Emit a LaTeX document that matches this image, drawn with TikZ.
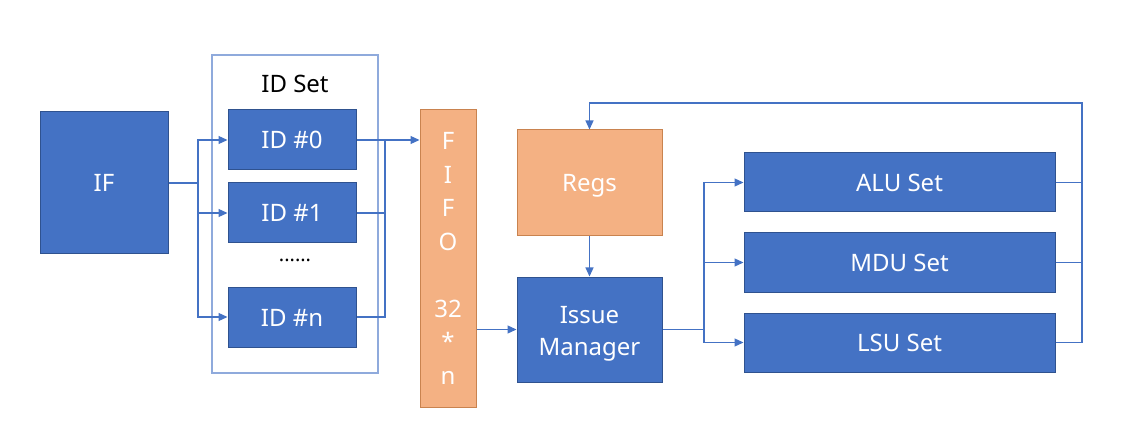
\documentclass[tikz,border=0pt]{standalone}
\usepackage{fontspec}
\setmainfont{Noto Sans}
\usetikzlibrary{arrows.meta}

\definecolor{blkblue}{HTML}{4472C4}
\definecolor{blkblueline}{HTML}{2F528F}
\definecolor{blkorange}{HTML}{F4B183}
\definecolor{blkorangeline}{HTML}{C9834F}
\definecolor{setline}{HTML}{8FAADC}

\tikzset{
	blk/.style={draw=blkblueline, fill=blkblue, text=white, line width=1pt, inner sep=0pt,
		font=\fontsize{24}{32}\selectfont, align=center},
	orgblk/.style={blk, draw=blkorangeline, fill=blkorange},
	oneline/.style={text height=23pt, text depth=5pt},
	wire/.style={draw=blkblue, line width=1.2pt},
	arr/.style={wire, -{Triangle[length=9pt,width=8pt]}}
}

\begin{document}
\begin{tikzpicture}[x=1pt, y=-1pt]
			%%%%% START %%%%%
			\useasboundingbox (0, 0) rectangle (1121, 438);
			
			% front end
			\node[blk, oneline, minimum width=128, minimum height=142] (if) at (104, 183) {IF};
			
			\node[draw=setline, line width=1.5pt, minimum width=166, minimum height=318, inner sep=0pt] (idset) at (295, 214) {};
			\node[font=\fontsize{24}{28}\selectfont] (idsetlabel) at (295, 84) {ID Set};
			\node[blk, oneline, minimum width=128, minimum height=60] (id0) at (292, 140) {ID \#0};
			\node[blk, oneline, minimum width=128, minimum height=60] (id1) at (292, 213) {ID \#1};
			\node[font=\fontsize{20}{20}\selectfont] (iddots) at (295, 260) {......};
			\node[blk, oneline, minimum width=128, minimum height=60] (idn) at (292, 317) {ID \#n};
			
			\node[orgblk, minimum width=56, minimum height=297, font=\fontsize{24}{33.5}\selectfont] (fifo) at (448, 258.5) {F\\I\\F\\O\\[33.5pt]32\\*\\n};
			
			% back end
			\node[orgblk, oneline, minimum width=145, minimum height=106] (regs) at (589.5, 183) {Regs};
			\node[blk, minimum width=145, minimum height=105] (issue) at (589.5, 329.5) {\rule{0pt}{25pt}Issue\\Manager};
			
			\node[blk, oneline, minimum width=311, minimum height=59] (alu) at (899.5, 182.5) {ALU Set};
			\node[blk, oneline, minimum width=311, minimum height=59] (mdu) at (899.5, 262.5) {MDU Set};
			\node[blk, oneline, minimum width=311, minimum height=59] (lsu) at (899.5, 342.5) {LSU Set};
			
			% junctions
			\coordinate (ifsplit) at (198, 183);
			\coordinate (idjoin) at (385, 140);
			\coordinate (issplit) at (704, 329.5);
			\coordinate (fbtop) at (1082, 103);
			
			% connectors
			\draw[wire] (if.east) -- (ifsplit);
			\draw[arr] (ifsplit) |- (id0.west);
			\draw[arr] (ifsplit) |- (id1.west);
			\draw[arr] (ifsplit) |- (idn.west);
			
			\draw[arr] (id0.east) -- (fifo.west |- id0.east);
			\draw[wire] (id1.east) -| (idjoin);
			\draw[wire] (idn.east) -| (idjoin);
			
			\draw[arr] (fifo.east |- issue.west) -- (issue.west);
			\draw[arr] (regs.south) -- (issue.north);
			
			\draw[wire] (issue.east) -- (issplit);
			\draw[arr] (issplit) |- (alu.west);
			\draw[arr] (issplit) |- (mdu.west);
			\draw[arr] (issplit) |- (lsu.west);
			
			\draw[wire] (alu.east) -- (alu.east -| fbtop);
			\draw[wire] (mdu.east) -- (mdu.east -| fbtop);
			\draw[arr] (lsu.east) -| (fbtop) -| (regs.north);
			
			%%%%% END %%%%%
\end{tikzpicture}
\end{document}
